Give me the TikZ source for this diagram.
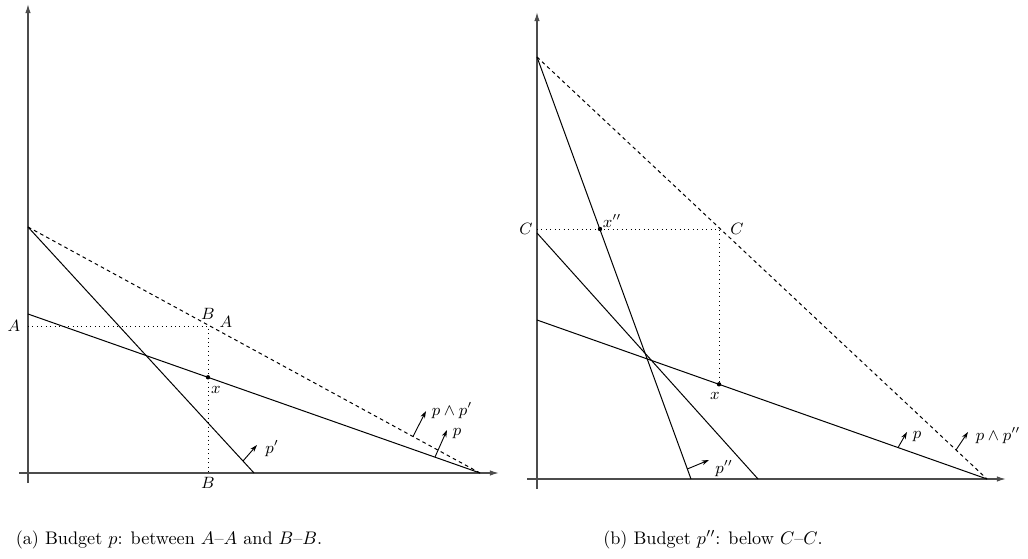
\documentclass[tikz,border=0pt]{standalone}
\usetikzlibrary{arrows.meta}
\begin{document}
\begin{tikzpicture}[x=0.55pt,y=-0.55pt,
  axis/.style={line width=0.75pt,black!70,-{Latex[length=5pt,width=3pt]}},
  budget/.style={line width=0.55pt},
  dashline/.style={line width=0.55pt,dash pattern=on 2pt off 1.8pt},
  dotline/.style={line width=0.45pt,dotted},
  vec/.style={line width=0.5pt,-{Stealth[length=4pt,width=2.6pt]}},
  lbl/.style={font=\fontsize{9}{11}\selectfont,inner sep=0pt},
  captxt/.style={font=\normalsize,inner sep=0pt},
  dot/.style={circle,fill=black,inner sep=0pt,minimum size=2.4pt}]
\useasboundingbox (0,0) rectangle (1028,559);

% ---------- left panel ----------
\coordinate (LyB) at (28,483);
\coordinate (LyT) at (28,4);
\coordinate (LxL) at (19,473);
\coordinate (LxR) at (499,473);
\draw[axis] (LyB) -- (LyT);
\draw[axis] (LxL) -- (LxR);

\coordinate (LD0) at (28,227);
\coordinate (LD1) at (480,473);
\coordinate (LP0) at (28,314);
\coordinate (LQ1) at (254,473);
\draw[dashline] (LD0) -- (LD1);
\draw[budget] (LP0) -- (LD1);
\draw[budget] (LD0) -- (LQ1);

\coordinate (LA0) at (28,326);
\coordinate (LA1) at (208,326);
\coordinate (LB1) at (208,473);
\draw[dotline] (LA0) -- (LA1) -- (LB1);
\node[dot] (Lx) at (208,377.3) {};

\node[lbl] (lA) at (14,326) {$A$};
\node[lbl] (lBt) at (208,314) {$B$};
\node[lbl] (lAr) at (226,322) {$A$};
\node[lbl] (lx) at (216,390) {$x$};
\node[lbl] (lBb) at (208,483) {$B$};

\coordinate (v1a) at (243,461);
\coordinate (v1b) at (257,445);
\draw[vec] (v1a) -- (v1b);
\node[lbl] (lpp) at (272,449) {$p'$};

\coordinate (v2a) at (435,457);
\coordinate (v2b) at (447,430);
\draw[vec] (v2a) -- (v2b);
\node[lbl] (lp) at (457,434) {$p$};

\coordinate (v3a) at (413,436.5);
\coordinate (v3b) at (426,411);
\draw[vec] (v3a) -- (v3b);
\node[lbl] (lppp) at (452,411) {$p\wedge p'$};

\node[captxt] (capa) at (169,540) {(a) Budget $p$: between $A$--$A$ and $B$--$B$.};

% ---------- right panel ----------
\coordinate (RyB) at (537,489);
\coordinate (RyT) at (537,12);
\coordinate (RxL) at (527,479);
\coordinate (RxR) at (1006,479);
\draw[axis] (RyB) -- (RyT);
\draw[axis] (RxL) -- (RxR);

\coordinate (RD0) at (537,57);
\coordinate (RD1) at (987,479);
\coordinate (RS1) at (691,479);
\coordinate (RC0) at (537,233);
\coordinate (RC1) at (758,479);
\coordinate (RP0) at (537,320);
\draw[dashline] (RD0) -- (RD1);
\draw[budget] (RD0) -- (RS1);
\draw[budget] (RC0) -- (RC1);
\draw[budget] (RP0) -- (RD1);

\coordinate (RL0) at (537,229);
\coordinate (RL1) at (719,229);
\coordinate (RL2) at (719,384.3);
\draw[dotline] (RL0) -- (RL1) -- (RL2);
\node[dot] (Rxpp) at (600,229) {};
\node[dot] (Rx) at (719,384.3) {};

\node[lbl] (rC) at (526,229) {$C$};
\node[lbl] (rCr) at (737,229) {$C$};
\node[lbl] (rxpp) at (612,221) {$x''$};
\node[lbl] (rx) at (715,396) {$x$};

\coordinate (w1a) at (687.3,469);
\coordinate (w1b) at (709,460);
\draw[vec] (w1a) -- (w1b);
\node[lbl] (rpp) at (724,469) {$p''$};

\coordinate (w2a) at (898,447.6);
\coordinate (w2b) at (907,432);
\draw[vec] (w2a) -- (w2b);
\node[lbl] (rp) at (917,437) {$p$};

\coordinate (w3a) at (956,450);
\coordinate (w3b) at (968,432);
\draw[vec] (w3a) -- (w3b);
\node[lbl] (rppp) at (998,436) {$p\wedge p''$};

\node[captxt] (capb) at (713,540) {(b) Budget $p''$: below $C$--$C$.};
\end{tikzpicture}
\end{document}
